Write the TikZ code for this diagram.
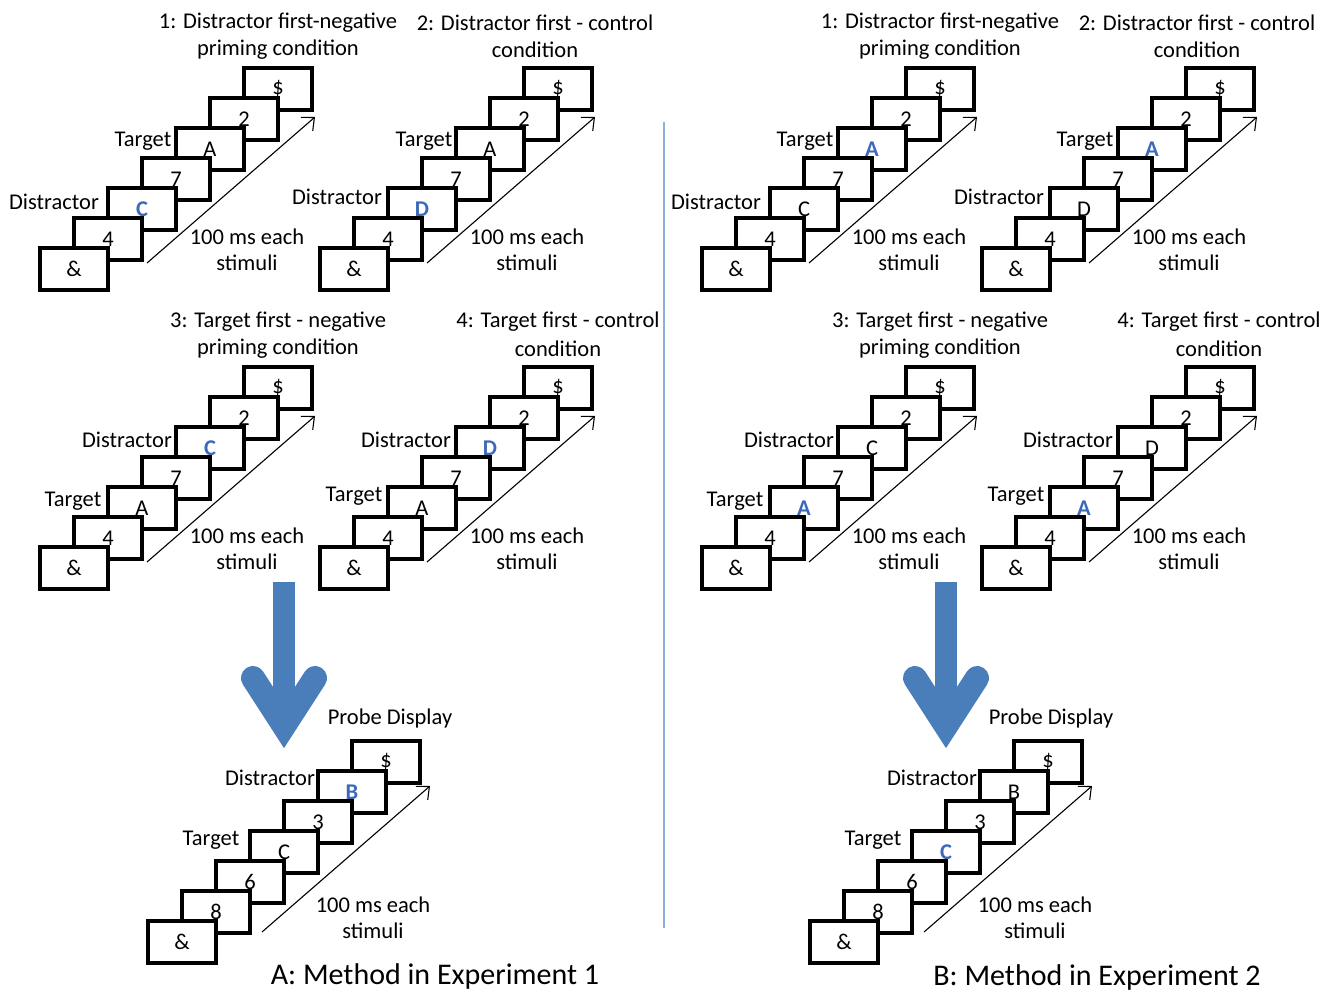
\documentclass[tikz,border=0pt]{standalone}
\usepackage{fontspec}
\setmainfont{Carlito}
\usetikzlibrary{arrows.meta}
\definecolor{hiblue}{RGB}{60,105,185}
\definecolor{bigblue}{RGB}{74,126,187}
\definecolor{divblue}{RGB}{140,175,220}
\newcommand{\hl}[1]{{\color{hiblue}\bfseries #1}}
\newcommand{\stairs}[4]{%
  \foreach \i/\t in {#4}{%
    \node[stim] (#1-\i) at ({#2+34*(\i-1)+34},{#3-30*(\i-1)+21}) {\t};
  }}
\newcommand{\timing}[7]{% prefix, x0, y0, arrow start dx, dy, text dx, dy
  \coordinate (#1-as) at ({#2+#4},{#3+#5});
  \coordinate (#1-ae) at ({#2+#4+168},{#3+#5-146});
  \draw[timearrow] (#1-as) -- (#1-ae);
  \node[txt] (#1-t1) at ({#2+#6},{#3+#7}) {100 ms each};
  \node[txt] (#1-t2) at ({#2+#6},{#3+#7+26}) {stimuli};
}
\newcommand{\bigdown}[2]{% prefix, x
  \coordinate (#1-s0) at (#2,582);
  \coordinate (#1-s1) at (#2,726);
  \coordinate (#1-hl) at ({#2-31},678);
  \coordinate (#1-hr) at ({#2+31},678);
  \draw[bigshaft] (#1-s0) -- (#1-s1);
  \draw[bighead] (#1-hl) -- (#1-s1) -- (#1-hr);
}
\begin{document}
\begin{tikzpicture}[x=1pt,y=-1pt,
  stim/.style={draw=black, fill=white, line width=3.5pt, minimum width=68pt, minimum height=42pt, inner sep=0pt, font=\fontsize{22.5}{25}\selectfont},
  txt/.style={inner sep=0pt, font=\fontsize{22.5}{25}\selectfont},
  ttl/.style={inner sep=0pt, font=\fontsize{30}{33}\selectfont},
  timearrow/.style={line width=1.1pt, -{Straight Barb[length=10pt,width=18pt,line width=1.1pt]}},
  bigshaft/.style={line width=22pt, draw=bigblue},
  bighead/.style={line width=24pt, draw=bigblue, line cap=round, line join=miter},
  divider/.style={line width=1.6pt, draw=divblue}]
\fill[white] (0,0) rectangle (1333,990);
\useasboundingbox (0,0) rectangle (1333,990);

% divider
\coordinate (d1) at (664,122);
\coordinate (d2) at (664,928);
\draw[divider] (d1) -- (d2);

% ===== Left side (Experiment 1) =====
\node[txt] (lt1a) at (278,23) {1: Distractor first-negative};
\node[txt] (lt1b) at (278,50) {priming condition};
\stairs{L1}{40}{248}{7/\$,6/2,5/A,4/7,3/\hl{C},2/4,1/\&}
\timing{L1}{40}{248}{107}{15}{207}{-11}
\node[txt] (L1d) at (54,202) {Distractor};
\node[txt] (L1t) at (143,141) {Target};

\node[txt] (lt2a) at (535,23) {2: Distractor first - control};
\node[txt] (lt2b) at (535,50) {condition};
\stairs{L2}{320}{248}{7/\$,6/2,5/A,4/7,3/\hl{D},2/4,1/\&}
\timing{L2}{320}{248}{107}{15}{207}{-11}
\node[txt] (L2d) at (337,197) {Distractor};
\node[txt] (L2t) at (424,141) {Target};

\node[txt] (lt3a) at (278,322) {3: Target first - negative};
\node[txt] (lt3b) at (278,349) {priming condition};
\stairs{L3}{40}{547}{7/\$,6/2,5/\hl{C},4/7,3/A,2/4,1/\&}
\timing{L3}{40}{547}{107}{15}{207}{-11}
\node[txt] (L3d) at (127,440) {Distractor};
\node[txt] (L3t) at (73,501) {Target};

\node[txt] (lt4a) at (558,322) {4: Target first - control};
\node[txt] (lt4b) at (558,349) {condition};
\stairs{L4}{320}{547}{7/\$,6/2,5/\hl{D},4/7,3/A,2/4,1/\&}
\timing{L4}{320}{547}{107}{15}{207}{-11}
\node[txt] (L4d) at (406,440) {Distractor};
\node[txt] (L4t) at (354,496) {Target};

\bigdown{LA}{284}

\node[txt] (LPp) at (390,718) {Probe Display};
\stairs{LP}{148}{921}{7/\$,6/\hl{B},5/3,4/C,3/6,2/8,1/\&}
\timing{LP}{148}{921}{114}{11}{225}{-16}
\node[txt] (LPd) at (270,778) {Distractor};
\node[txt] (LPt) at (211,840) {Target};

\node[ttl] (LT) at (435,976) {A: Method in Experiment 1};

% ===== Right side (Experiment 2) =====
\node[txt] (rt1a) at (940,23) {1: Distractor first-negative};
\node[txt] (rt1b) at (940,50) {priming condition};
\stairs{R1}{702}{248}{7/\$,6/2,5/\hl{A},4/7,3/C,2/4,1/\&}
\timing{R1}{702}{248}{107}{15}{207}{-11}
\node[txt] (R1d) at (716,202) {Distractor};
\node[txt] (R1t) at (805,141) {Target};

\node[txt] (rt2a) at (1197,23) {2: Distractor first - control};
\node[txt] (rt2b) at (1197,50) {condition};
\stairs{R2}{982}{248}{7/\$,6/2,5/\hl{A},4/7,3/D,2/4,1/\&}
\timing{R2}{982}{248}{107}{15}{207}{-11}
\node[txt] (R2d) at (999,197) {Distractor};
\node[txt] (R2t) at (1085,141) {Target};

\node[txt] (rt3a) at (940,322) {3: Target first - negative};
\node[txt] (rt3b) at (940,349) {priming condition};
\stairs{R3}{702}{547}{7/\$,6/2,5/C,4/7,3/\hl{A},2/4,1/\&}
\timing{R3}{702}{547}{107}{15}{207}{-11}
\node[txt] (R3d) at (789,440) {Distractor};
\node[txt] (R3t) at (735,501) {Target};

\node[txt] (rt4a) at (1219,322) {4: Target first - control};
\node[txt] (rt4b) at (1219,349) {condition};
\stairs{R4}{982}{547}{7/\$,6/2,5/D,4/7,3/\hl{A},2/4,1/\&}
\timing{R4}{982}{547}{107}{15}{207}{-11}
\node[txt] (R4d) at (1068,440) {Distractor};
\node[txt] (R4t) at (1016,496) {Target};

\bigdown{RA}{946}

\node[txt] (RPp) at (1051,718) {Probe Display};
\stairs{RP}{810}{921}{7/\$,6/B,5/3,4/\hl{C},3/6,2/8,1/\&}
\timing{RP}{810}{921}{114}{11}{225}{-16}
\node[txt] (RPd) at (932,778) {Distractor};
\node[txt] (RPt) at (873,840) {Target};

\node[ttl] (RT) at (1097,977) {B: Method in Experiment 2};
\end{tikzpicture}
\end{document}
